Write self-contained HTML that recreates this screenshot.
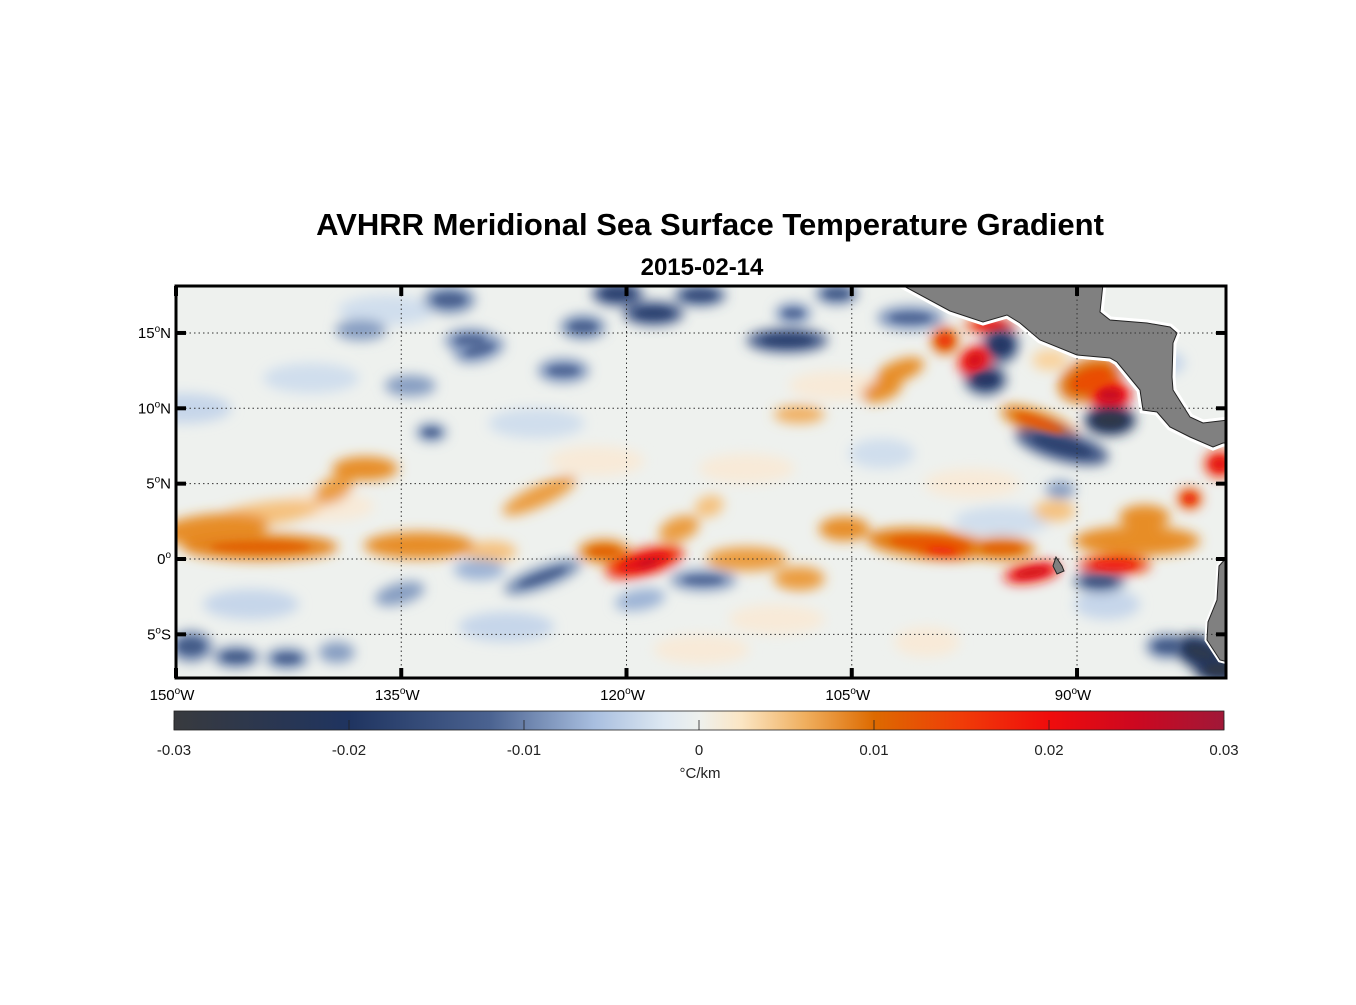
<!DOCTYPE html>
<html><head><meta charset="utf-8"><style>
body{margin:0;background:#fff;}
svg text{font-family:"Liberation Sans",sans-serif;}
</style></head><body>
<svg id="fig" width="1356" height="1000" xmlns="http://www.w3.org/2000/svg">
<defs>
<clipPath id="mapclip"><rect x="176" y="286" width="1050" height="392"/></clipPath>
<filter id="blur" x="-50%" y="-50%" width="200%" height="200%"><feGaussianBlur stdDeviation="6"/></filter>
<filter id="blur2" x="-50%" y="-50%" width="200%" height="200%"><feGaussianBlur stdDeviation="3.5"/></filter>
<linearGradient id="cbgrad" x1="0" x2="1" y1="0" y2="0">
<stop offset="0" stop-color="#383a3e"/><stop offset="0.1667" stop-color="#1f3460"/>
<stop offset="0.3" stop-color="#4a6290"/><stop offset="0.4" stop-color="#a8bedf"/>
<stop offset="0.4667" stop-color="#dde8f2"/><stop offset="0.5" stop-color="#eef1ee"/>
<stop offset="0.54" stop-color="#fbe6c4"/><stop offset="0.6" stop-color="#f0b060"/>
<stop offset="0.6667" stop-color="#dd6a00"/><stop offset="0.75" stop-color="#f03c08"/>
<stop offset="0.8333" stop-color="#f00c0c"/><stop offset="0.9167" stop-color="#cc0820"/>
<stop offset="1" stop-color="#a01838"/></linearGradient>
</defs>
<text x="710" y="235" text-anchor="middle" font-size="31" font-weight="bold">AVHRR Meridional Sea Surface Temperature Gradient</text>
<text x="702" y="275" text-anchor="middle" font-size="24" font-weight="bold">2015-02-14</text>
<rect x="176" y="286" width="1050" height="392" fill="#eef1ee"/>
<g id="field" clip-path="url(#mapclip)"><g id="fieldblur" filter="url(#blur)"></g><g id="fieldsharp" filter="url(#blur2)"></g></g>
<g id="land" clip-path="url(#mapclip)">
<path d="M900,284 L950,311 L983,322 L1007,315 L1020,323 L1040,340 L1077,355 L1110,358 L1117,362 L1140,390 L1143,410 L1157,412 L1170,427 L1190,437 L1213,447 L1223,443 L1228,443 L1228,420 L1203,423 L1190,417 L1173,390 L1172,377 L1173,343 L1177,333 L1170,327 L1147,323 L1110,320 L1100,312 L1103,284 Z" fill="#fff" stroke="#fff" stroke-width="7"/>
<path d="M900,284 L950,311 L983,322 L1007,315 L1020,323 L1040,340 L1077,355 L1110,358 L1117,362 L1140,390 L1143,410 L1157,412 L1170,427 L1190,437 L1213,447 L1223,443 L1228,443 L1228,420 L1203,423 L1190,417 L1173,390 L1172,377 L1173,343 L1177,333 L1170,327 L1147,323 L1110,320 L1100,312 L1103,284 Z" fill="#808080" stroke="#222" stroke-width="1"/>
<path d="M1228,556 L1219,566 L1217,600 L1208,622 L1207,640 L1220,660 L1228,662 Z" fill="#808080" stroke="#fff" stroke-width="5" paint-order="stroke"/>
<path d="M1228,556 L1219,566 L1217,600 L1208,622 L1207,640 L1220,660 L1228,662" fill="none" stroke="#222" stroke-width="1"/>
<path d="M1056,557 L1062,566 L1064,571 L1057,574 L1053,566 Z" fill="#808080" stroke="#222" stroke-width="1"/>
</g>
<g id="grid"></g>
<g id="ticks"></g>
<rect x="176" y="286" width="1050" height="392" fill="none" stroke="#000" stroke-width="3"/>
<g id="ylabels" font-size="15"></g>
<g id="xlabels" font-size="15"></g>
<rect x="174" y="711" width="1050" height="19" fill="url(#cbgrad)" stroke="#222" stroke-width="0.8"/>
<g id="cbticks" font-size="15"></g>
<text x="700" y="778" text-anchor="middle" font-size="15" fill="#222">°C/km</text>
</svg>
<script>
const lonTicks=[-150,-135,-120,-105,-90];
const latTicks=[-5,0,5,10,15];
const cbTicks=[-0.03,-0.02,-0.01,0,0.01,0.02,0.03];
// features: lon, lat, value (°C/km); extents in degrees
const fLon=[-147.5,-144.4,-144,-137.4,-139.5,-133.8,-129,-125.8,-121.5,-118.8,-118.6,-116.5,-114.5,-112,-108.5,-105.5,-99.8,-99,-95,-93,-87.5,-86,-85.5,-82.5,-80.5,-91.5,
-89.1,-87.8,-92.5,-87.8,-91,-96.8,-95.8,-98.8,-95.1,-96.1,-101.8,-103,-108.5,-91.8,
-131.8,-130.4,-134.4,-133,-137.7,-124.2,-122.9,-120.6,-129.8,-118.2,-115.1,-109.3,-108.9,-106,
-125.6,-135.1,-129.8,-149,-146,-142.6,-139.3,-114.9,-119.1,-88.5,-81.8,-84,-101.1,-91.1,-80.5,-149.5,-141,-126,-112,-103,-97,-85,-145,-110,-128,-100,-88,-140,-122,-106,-136,-115,-95];
const fLat=[2.0,0.8,3.0,6.0,4.6,0.9,0.5,4.2,0.5,-0.2,-0.3,2.0,3.5,0.0,-1.3,2.0,1.0,0.6,0.7,-0.9,-0.4,1.2,2.8,4.0,6.3,3.2,
11.9,10.9,9.0,9.2,7.5,13.2,15.5,14.5,14.2,11.9,12.5,11.2,9.6,13.2,
17.2,14.5,11.5,8.4,15.2,12.5,15.4,17.6,13.9,16.3,17.5,14.5,16.3,17.6,
-1.2,-2.3,-0.7,-5.8,-6.5,-6.6,-6.2,-1.4,-2.7,-1.5,-6.2,-5.8,16.0,4.6,-7.3,10.0,12.0,9.0,6.0,7.0,5.0,13.0,-3.0,-4.0,-4.5,-5.5,-3.0,3.5,6.5,11.5,16.5,-6.0,2.5];
const fVal=[0.011,0.012,0.008,0.011,0.010,0.011,0.008,0.010,0.012,0.022,0.027,0.010,0.008,0.010,0.010,0.011,0.013,0.018,0.012,0.025,0.020,0.011,0.011,0.018,0.022,0.008,
0.014,0.026,0.013,-0.028,-0.018,0.024,0.020,0.016,-0.020,-0.020,0.011,0.011,0.009,0.007,
-0.013,-0.012,-0.011,-0.013,-0.011,-0.012,-0.013,-0.018,-0.012,-0.018,-0.016,-0.018,-0.012,-0.014,
-0.013,-0.011,-0.009,-0.014,-0.014,-0.013,-0.011,-0.012,-0.009,-0.015,-0.026,-0.014,-0.012,-0.011,-0.028,-0.005,-0.004,-0.004,0.003,-0.004,0.003,-0.005,-0.005,0.003,-0.005,0.003,-0.005,0.003,0.003,0.003,-0.004,0.003,-0.004];
const fRx=[3.5,5,3.5,2,1.2,3.5,1.5,2.5,1.5,2.5,1.0,1.2,0.8,2.5,1.5,1.5,4,1.5,2,1.7,2.2,4,1.5,0.6,0.8,1.2,
2,1.2,2.5,1.5,3,0.7,1.5,0.7,1,1.2,1.5,1.2,1.5,1,
1.5,1.5,1.5,0.8,1.5,1.5,1.3,1.5,1.5,1.8,1.5,2.5,1,1.2,
2.5,1.5,1.5,1.2,1.3,1.2,1,2,1.5,1.5,1.5,1.2,2,0.8,1.5,3,3,3,3,2,3,2,3,3,3,2,2,3,3,3,3,3,3];
const fRy=[0.8,0.7,0.6,0.6,0.6,0.7,0.5,0.5,0.6,0.7,0.3,0.6,0.5,0.6,0.6,0.6,0.8,0.4,0.6,0.45,0.45,0.8,0.6,0.5,0.7,0.5,
1.2,0.8,0.6,0.8,0.8,1.0,0.3,0.7,1.0,0.8,0.5,0.5,0.4,0.5,
0.7,0.6,0.5,0.4,0.5,0.6,0.6,0.6,0.6,0.6,0.5,0.6,0.5,0.5,
0.5,0.5,0.5,0.8,0.5,0.5,0.5,0.5,0.5,0.5,0.9,0.6,0.6,0.4,0.7,0.8,0.8,0.8,0.8,0.8,0.8,0.8,0.8,0.8,0.8,0.8,0.8,0.8,0.8,0.8,0.8,0.8,0.8];
const fRot=[-5,0,-8,0,-30,0,0,-25,0,-15,-15,-20,-20,0,0,0,5,5,0,-10,0,0,0,0,0,0,
-20,0,20,0,15,60,0,0,0,0,-20,-20,0,0,
0,0,0,0,0,0,0,0,-15,0,0,0,0,0,
-20,-15,0,0,0,0,0,0,-10,0,20,0,0,0,0,0,0,0,0,0,0,0,0,0,0,0,0,0,0,0,0,0,0];

const X=lon=>176+(lon+150)*15.017;
const Y=lat=>559-lat*15.07;
const cbX=v=>174+(v+0.03)/0.06*1050;
const stops=[[-0.03,[56,58,62]],[-0.02,[31,52,96]],[-0.012,[74,98,144]],[-0.006,[168,190,223]],[-0.002,[221,232,242]],[0,[238,241,238]],[0.002,[248,236,220]],[0.005,[251,217,168]],[0.008,[232,144,42]],[0.011,[221,106,0]],[0.015,[240,60,8]],[0.02,[240,12,12]],[0.025,[204,8,32]],[0.03,[160,24,56]]];
function cmap(v){v=Math.max(-0.03,Math.min(0.03,v));for(let i=0;i<stops.length-1;i++){const a=stops[i],b=stops[i+1];if(v<=b[0]){const t=(v-a[0])/(b[0]-a[0]);const c=a[1].map((x,k)=>Math.round(x+(b[1][k]-x)*t));return `rgb(${c})`;}}return 'rgb(160,24,56)';}
const NS='http://www.w3.org/2000/svg';
function mk(tag,attrs,parent){const e=document.createElementNS(NS,tag);for(const k in attrs)e.setAttribute(k,attrs[k]);parent.appendChild(e);return e;}
const fb=document.getElementById('fieldblur');
const order=fLon.map((_,i)=>i).sort((a,b)=>Math.abs(fVal[a])-Math.abs(fVal[b]));
order.forEach(i=>{
  const cx=X(fLon[i]),cy=Y(fLat[i]);
  const e=mk('ellipse',{cx:cx,cy:cy,rx:fRx[i]*15+3,ry:fRy[i]*15+3,fill:cmap(fVal[i]*0.75),transform:`rotate(${fRot[i]} ${cx} ${cy})`},fb);
  
  
  if(Math.abs(fVal[i])>=0.012){
    const c=mk('ellipse',{cx:cx,cy:cy,rx:fRx[i]*10,ry:fRy[i]*8,fill:cmap(fVal[i]),opacity:0.85,transform:`rotate(${fRot[i]} ${cx} ${cy})`},document.getElementById('fieldsharp'));
    
    
  }
});
const grid=document.getElementById('grid'),ticks=document.getElementById('ticks');
lonTicks.forEach(l=>{
  const x=X(l);
  if(l>-150){const g=mk('line',{x1:x,x2:x,y1:286,y2:678,stroke:'#333','stroke-width':1,'stroke-dasharray':'1.5,3'},grid);
  }
  mk('line',{x1:x,x2:x,y1:286,y2:296,stroke:'#000','stroke-width':4},ticks);
  mk('line',{x1:x,x2:x,y1:668,y2:678,stroke:'#000','stroke-width':4},ticks);
  const t=mk('text',{x:x-4,y:700,'text-anchor':'middle'},document.getElementById('xlabels'));
  t.innerHTML=Math.abs(l)+'<tspan dy="-6" font-size="10">o</tspan><tspan dy="6">W</tspan>';
  
});
latTicks.forEach(l=>{
  const y=Y(l);
  const g=mk('line',{x1:176,x2:1226,y1:y,y2:y,stroke:'#333','stroke-width':1,'stroke-dasharray':'1.5,3'},grid);
  
  mk('line',{x1:176,x2:186,y1:y,y2:y,stroke:'#000','stroke-width':4},ticks);
  mk('line',{x1:1216,x2:1226,y1:y,y2:y,stroke:'#000','stroke-width':4},ticks);
  const t=mk('text',{x:171,y:y+5,'text-anchor':'end'},document.getElementById('ylabels'));
  t.innerHTML=Math.abs(l)+'<tspan dy="-6" font-size="10">o</tspan><tspan dy="6">'+(l>0?'N':l<0?'S':'')+'</tspan>';
  
});
const cbt=document.getElementById('cbticks');
cbTicks.forEach(v=>{
  const x=cbX(v);
  mk('line',{x1:x,x2:x,y1:720,y2:730,stroke:'#222','stroke-width':0.8},cbt);
  const t=mk('text',{x:x,y:755,'text-anchor':'middle',fill:'#222'},cbt);
  t.textContent=(v===0?'0':v.toFixed(2));
  
});
</script>
</body></html>
